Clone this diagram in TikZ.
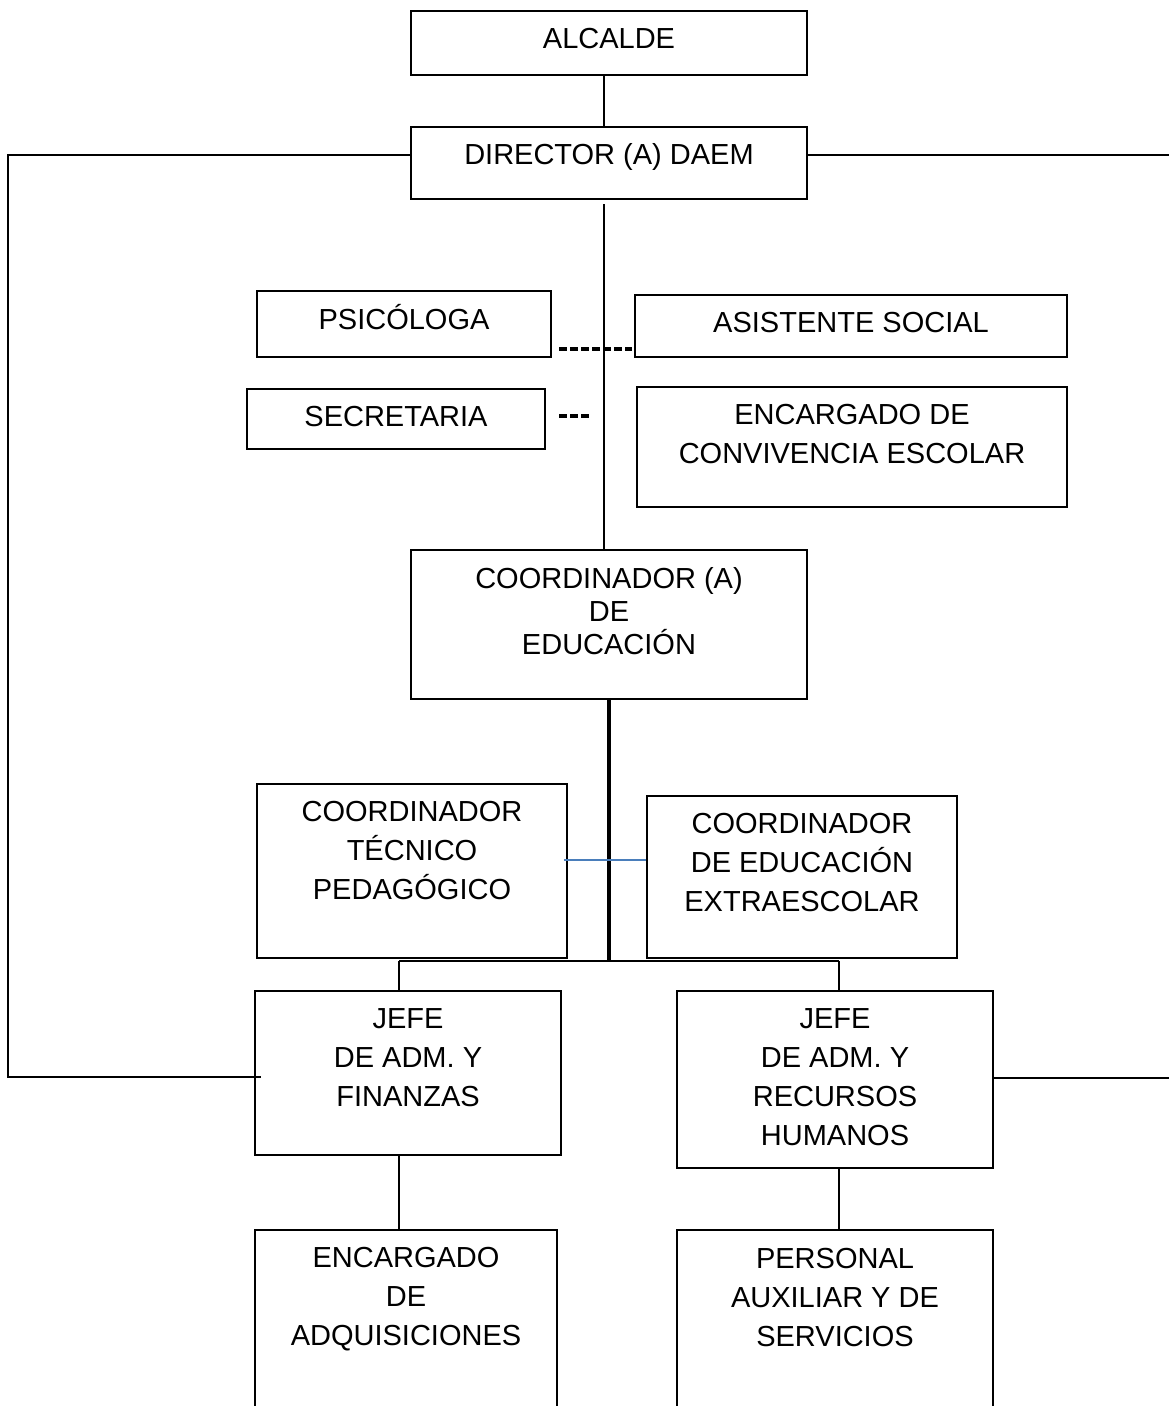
\documentclass[tikz,border=0pt]{standalone}
\usepackage{fontspec}
\setmainfont{Liberation Sans}
\begin{document}
\begin{tikzpicture}[x=1pt,y=-1pt,
  box/.style={draw=black,line width=1.6pt,inner sep=0pt,fill=none},
  txt/.style={align=center,inner sep=0pt,font=\fontsize{29}{39}\selectfont},
  txtc/.style={align=center,inner sep=0pt,font=\fontsize{29}{33}\selectfont},
  ln/.style={draw=black,line width=1.6pt},
  thickln/.style={draw=black,line width=3.4pt},
  dsh/.style={draw=black,line width=4pt,dash pattern=on 8pt off 3pt},
  blueln/.style={draw={rgb,255:red,74;green,126;blue,187},line width=1.6pt}]
\useasboundingbox (0,0) rectangle (1169,1406);
\clip (0,0) rectangle (1169,1406);
% boxes
\node[box,minimum width=396pt,minimum height=64pt] (alc) at (609,43) {};
\node[txt] (alct) at (609,39) {ALCALDE};
\node[box,minimum width=396pt,minimum height=72pt] (dir) at (609,163) {};
\node[txt] (dirt) at (609,157) {DIRECTOR (A) DAEM};
\node[box,minimum width=294pt,minimum height=66pt] (psi) at (404,324) {};
\node[txt] (psit) at (404,317) {PSICÓLOGA};
\node[box,minimum width=432pt,minimum height=62pt] (asi) at (851,326) {};
\node[txt] (asit) at (851,323) {ASISTENTE SOCIAL};
\node[box,minimum width=298pt,minimum height=60pt] (sec) at (396,419) {};
\node[txt] (sect) at (396,416.5) {SECRETARIA};
\node[box,minimum width=430pt,minimum height=120pt] (conv) at (852,447) {};
\node[txt] (convt) at (852,434.5) {ENCARGADO DE\\CONVIVENCIA ESCOLAR};
\node[box,minimum width=396pt,minimum height=149pt] (coord) at (609,624.5) {};
\node[txtc] (coordt) at (609,611) {COORDINADOR (A)\\DE\\EDUCACIÓN};
\node[box,minimum width=310pt,minimum height=174pt] (tec) at (412,871) {};
\node[txt] (tect) at (412,851) {COORDINADOR\\TÉCNICO\\PEDAGÓGICO};
\node[box,minimum width=310pt,minimum height=162pt] (ext) at (802,877) {};
\node[txt] (extt) at (802,863) {COORDINADOR\\DE EDUCACIÓN\\EXTRAESCOLAR};
\node[box,minimum width=306pt,minimum height=164pt] (jf) at (408,1073) {};
\node[txt] (jft) at (408,1058) {JEFE\\DE ADM. Y\\FINANZAS};
\node[box,minimum width=316pt,minimum height=177pt] (jr) at (835,1079.5) {};
\node[txt] (jrt) at (835,1077) {JEFE\\DE ADM. Y\\RECURSOS\\HUMANOS};
\node[box,minimum width=302pt,minimum height=220pt] (adq) at (406,1340) {};
\node[txt] (adqt) at (406,1299) {ENCARGADO\\DE\\ADQUISICIONES};
\node[box,minimum width=316pt,minimum height=220pt] (per) at (835,1340) {};
\node[txt] (pert) at (835,1297) {PERSONAL\\AUXILIAR Y DE\\SERVICIOS};
% coordinates
\coordinate (trunk) at (604,0);
\coordinate (ltop) at (8,155);
\coordinate (lbot) at (8,1077);
\coordinate (rtop) at (1169,155);
\coordinate (rbot) at (1169,1078);
\coordinate (dirbelow) at (604,204);
\coordinate (bus) at (0,961);
\coordinate (busl) at (399,961);
\coordinate (busr) at (839,961);
\coordinate (d1) at (559,349);
\coordinate (d2) at (632,349);
\coordinate (s1) at (559,416);
\coordinate (s2) at (590,416);
\coordinate (bl) at (0,860);
% connectors
\draw[ln] (alc.south -| trunk) -- (dir.north -| trunk);
\draw[ln] (dir.west |- ltop) -- (ltop) -- (lbot) -- ([xshift=7pt]jf.west |- lbot);
\draw[ln] (dir.east |- rtop) -- (rtop);
\draw[ln] (jr.east |- rbot) -- (rbot);
\draw[ln] (dirbelow) -- (coord.north -| trunk);
\draw[dsh] (d1) -- (d2);
\draw[dsh] (s1) -- (s2);
\draw[thickln] (coord.south) -- (coord.south |- bus);
\draw[line width=2.6pt] (busl) -- (busr);
\draw[ln] (busl) -- (jf.north -| busl);
\draw[ln] (busr) -- (jr.north -| busr);
\draw[blueln] ([xshift=-4pt]tec.east |- bl) -- (ext.west |- bl);
\draw[ln] (jf.south -| busl) -- (adq.north -| busl);
\draw[ln] (jr.south -| busr) -- (per.north -| busr);
\end{tikzpicture}
\end{document}
